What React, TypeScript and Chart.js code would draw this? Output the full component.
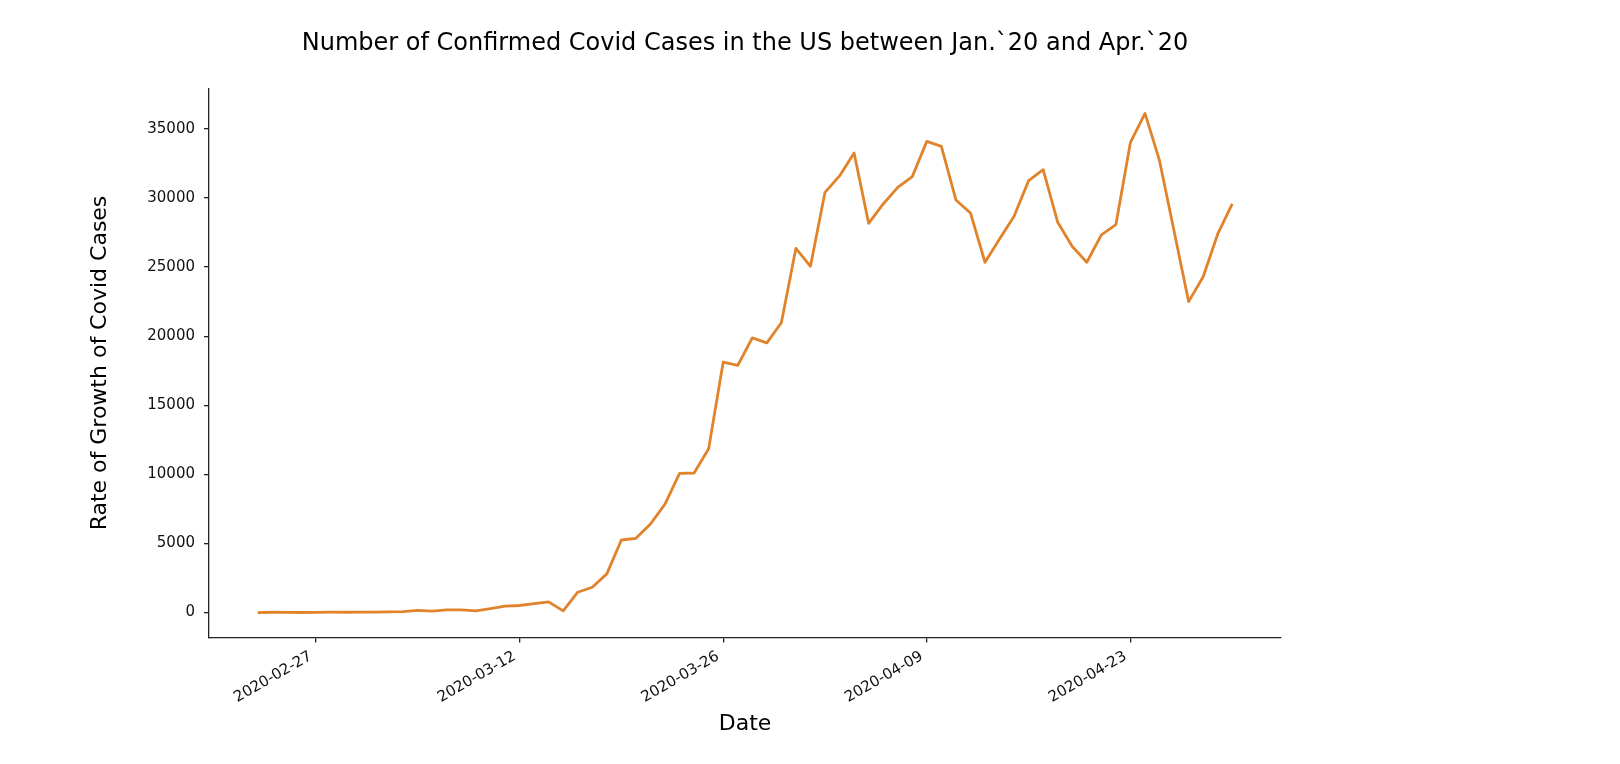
import { useEffect, useRef } from "react";
import { Chart, registerables } from "chart.js";

Chart.register(...registerables);

const dates = [
  "2020-02-23", "2020-02-24", "2020-02-25", "2020-02-26", "2020-02-27", "2020-02-28", "2020-02-29",
  "2020-03-01", "2020-03-02", "2020-03-03", "2020-03-04", "2020-03-05", "2020-03-06", "2020-03-07",
  "2020-03-08", "2020-03-09", "2020-03-10", "2020-03-11", "2020-03-12", "2020-03-13", "2020-03-14",
  "2020-03-15", "2020-03-16", "2020-03-17", "2020-03-18", "2020-03-19", "2020-03-20", "2020-03-21",
  "2020-03-22", "2020-03-23", "2020-03-24", "2020-03-25", "2020-03-26", "2020-03-27", "2020-03-28",
  "2020-03-29", "2020-03-30", "2020-03-31", "2020-04-01", "2020-04-02", "2020-04-03", "2020-04-04",
  "2020-04-05", "2020-04-06", "2020-04-07", "2020-04-08", "2020-04-09", "2020-04-10", "2020-04-11",
  "2020-04-12", "2020-04-13", "2020-04-14", "2020-04-15", "2020-04-16", "2020-04-17", "2020-04-18",
  "2020-04-19", "2020-04-20", "2020-04-21", "2020-04-22", "2020-04-23", "2020-04-24", "2020-04-25",
  "2020-04-26", "2020-04-27", "2020-04-28", "2020-04-29", "2020-04-30",
];

const dailyCases = [
  0, 20, 10, 5, 10, 25, 20,
  25, 30, 50, 70, 150, 110, 200,
  190, 120, 290, 460, 510, 650, 770,
  120, 1470, 1830, 2800, 5250, 5370, 6410,
  7850, 10070, 10100, 11860, 18120, 17880, 19880,
  19520, 20970, 26360, 25060, 30410, 31600, 33260,
  28170, 29570, 30770, 31550, 34100, 33740, 29860,
  28920, 25350, 27040, 28680, 31260, 32050, 28240,
  26490, 25350, 27330, 28080, 34030, 36120, 32700,
  27600, 22500, 24300, 27400, 29570,
];

const xTickDates = ["2020-02-27", "2020-03-12", "2020-03-26", "2020-04-09", "2020-04-23"];
const yTicks = [0, 5000, 10000, 15000, 20000, 25000, 30000, 35000];

const DAY_MS = 86400000;
const toDay = (s: string) => Date.parse(s) / DAY_MS;
const fromDay = (v: number) => new Date(Math.round(v) * DAY_MS).toISOString().slice(0, 10);

const FONT = "'DejaVu Sans', 'Liberation Sans', sans-serif";

export default function App() {
  const canvasRef = useRef<HTMLCanvasElement>(null);

  useEffect(() => {
    if (!canvasRef.current) return;
    const first = toDay(dates[0]);
    const last = toDay(dates[dates.length - 1]);
    // matplotlib-style 5% margins on both axes
    const xPad = (last - first) * 0.05;
    const yMin = Math.min(...dailyCases);
    const yMax = Math.max(...dailyCases);
    const yPad = (yMax - yMin) * 0.05;

    const chart = new Chart(canvasRef.current, {
      type: "line",
      data: {
        datasets: [
          {
            data: dates.map((d, i) => ({ x: toDay(d), y: dailyCases[i] })),
            borderColor: "#e1832b",
            borderWidth: 2.8,
            borderJoinStyle: "round",
            pointRadius: 0,
            tension: 0,
            fill: false,
          },
        ],
      },
      options: {
        responsive: true,
        maintainAspectRatio: false,
        animation: false,
        layout: { padding: { left: 0, right: 339, top: 0, bottom: 0 } },
        plugins: {
          legend: { display: false },
          tooltip: { enabled: false },
          title: {
            display: true,
            fullSize: false,
            text: "Number of Confirmed Covid Cases in the US between Jan.`20 and Apr.`20",
            color: "#000",
            font: { family: FONT, size: 24, weight: "normal" },
            padding: { top: 29.6, bottom: 30.1 },
          },
        },
        scales: {
          x: {
            type: "linear",
            min: first - xPad,
            max: last + xPad,
            afterBuildTicks: (scale) => {
              scale.ticks = xTickDates.map((d) => ({ value: toDay(d) }));
            },
            afterFit: (scale) => {
              scale.height = 126.5;
            },
            ticks: {
              autoSkip: false,
              minRotation: 30,
              maxRotation: 30,
              padding: 5,
              labelOffset: -5,
              color: "#111",
              font: { family: FONT, size: 15 },
              callback: (v) => fromDay(Number(v)),
            },
            grid: {
              display: true,
              drawOnChartArea: false,
              drawTicks: true,
              tickLength: 5,
              color: "#222",
              lineWidth: 1.3,
            },
            border: { display: true, color: "#222", width: 1.3 },
            title: {
              display: true,
              text: "Date",
              color: "#000",
              font: { family: FONT, size: 22 },
              padding: { top: 0, bottom: 26.8 },
            },
          },
          y: {
            min: yMin - yPad,
            max: yMax + yPad,
            afterBuildTicks: (scale) => {
              scale.ticks = yTicks.map((v) => ({ value: v }));
            },
            afterFit: (scale) => {
              scale.width = 209;
            },
            ticks: {
              padding: 9,
              color: "#111",
              font: { family: FONT, size: 15 },
              callback: (v) => String(v),
            },
            grid: {
              display: true,
              drawOnChartArea: false,
              drawTicks: true,
              tickLength: 5,
              color: "#222",
              lineWidth: 1.3,
            },
            border: { display: true, color: "#222", width: 1.3 },
            title: {
              display: true,
              text: "Rate of Growth of Covid Cases",
              color: "#000",
              font: { family: FONT, size: 22 },
              padding: { top: 86.8, bottom: 0 },
            },
          },
        },
      },
    });
    return () => chart.destroy();
  }, []);

  return (
    <div style={{ position: "fixed", left: 0, top: 0, width: 1620, height: 764, background: "#fff" }}>
      <canvas ref={canvasRef} />
    </div>
  );
}
